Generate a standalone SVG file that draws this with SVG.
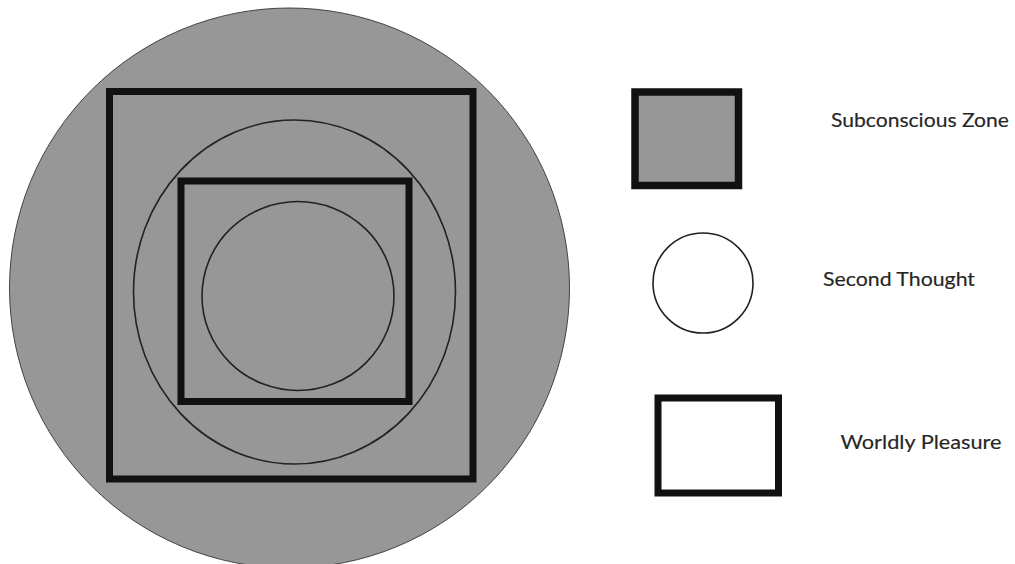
<svg xmlns="http://www.w3.org/2000/svg" width="1015" height="564" viewBox="0 0 1015 564">
  <style>
    .zone { fill: #979797; }
    .thick { fill: none; stroke: #111; stroke-width: 7; }
    .thin { fill: none; stroke: #222; stroke-width: 1.6; }
    .label { font-family: Lato, "Open Sans", "Liberation Sans", sans-serif; font-size: 19px; fill: #262626; stroke: #262626; stroke-width: 0.15; }
  </style>
  <rect width="1015" height="564" fill="#ffffff"/>
  <g id="diagram">
    <ellipse id="outer-circle" cx="289.5" cy="288" rx="280" ry="280" class="zone" stroke="#444" stroke-width="1"/>
    <rect id="outer-square" x="109.5" y="91.5" width="363.5" height="387.5" class="thick"/>
    <ellipse id="middle-circle" cx="294.5" cy="292" rx="161" ry="172" class="thin"/>
    <rect id="inner-square" x="181" y="181" width="228" height="220.5" class="thick"/>
    <ellipse id="inner-circle" cx="298" cy="296" rx="96" ry="94.5" class="thin"/>
  </g>
  <g id="legend-subconscious">
    <rect x="635" y="92" width="103.5" height="93.5" class="zone" stroke="#111" stroke-width="7.5"/>
    <text class="label" x="831" y="126.5" textLength="178" lengthAdjust="spacingAndGlyphs">Subconscious Zone</text>
  </g>
  <g id="legend-second-thought">
    <circle cx="703" cy="283" r="50" fill="#fff" stroke="#222" stroke-width="1.6"/>
    <text class="label" x="823" y="285.5" textLength="152" lengthAdjust="spacingAndGlyphs">Second Thought</text>
  </g>
  <g id="legend-worldly-pleasure">
    <rect x="658" y="398" width="120.5" height="95" fill="#fff" class="thick"/>
    <text class="label" x="840.5" y="448.5" textLength="161" lengthAdjust="spacingAndGlyphs">Worldly Pleasure</text>
  </g>
</svg>
